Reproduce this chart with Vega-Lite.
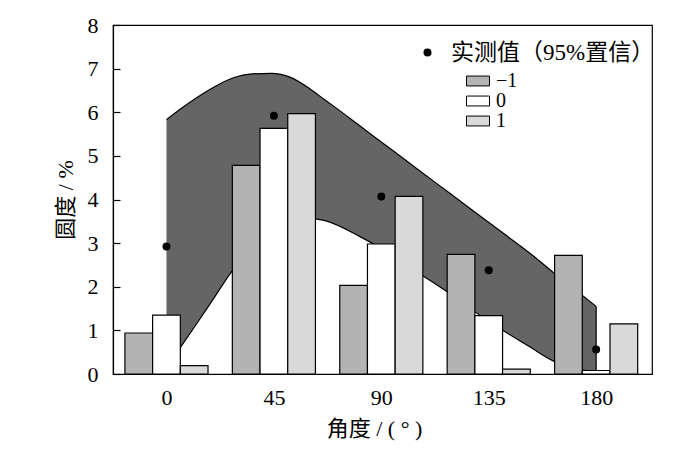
{
  "$schema": "https://vega.github.io/schema/vega-lite/v6.json",
  "autosize": "none",
  "width": 539,
  "height": 349,
  "padding": {"left": 113, "top": 25, "right": 48, "bottom": 75},
  "background": "white",
  "config": {
    "font": "'Liberation Serif', 'Noto Sans CJK SC', serif",
    "view": {"stroke": "black", "strokeWidth": 1.2},
    "axis": {
      "grid": false,
      "domainColor": "black",
      "domainWidth": 1.2,
      "tickColor": "black",
      "tickWidth": 1.2,
      "labelColor": "black",
      "titleColor": "black",
      "labelFontSize": 22,
      "titleFontSize": 22,
      "titleFontWeight": "normal"
    },
    "legend": {"labelColor": "black", "labelLimit": 400}
  },
  "datasets": {
    "bars": [
      {"angle": 0, "series": "-1", "value": 0.94},
      {"angle": 0, "series": "0", "value": 1.35},
      {"angle": 0, "series": "1", "value": 0.19},
      {"angle": 45, "series": "-1", "value": 4.78},
      {"angle": 45, "series": "0", "value": 5.63},
      {"angle": 45, "series": "1", "value": 5.97},
      {"angle": 90, "series": "-1", "value": 2.03},
      {"angle": 90, "series": "0", "value": 2.98},
      {"angle": 90, "series": "1", "value": 4.07},
      {"angle": 135, "series": "-1", "value": 2.74},
      {"angle": 135, "series": "0", "value": 1.34},
      {"angle": 135, "series": "1", "value": 0.11},
      {"angle": 180, "series": "-1", "value": 2.72},
      {"angle": 180, "series": "0", "value": 0.08},
      {"angle": 180, "series": "1", "value": 1.15}
    ],
    "measured": [
      {"angle": 0, "value": 2.92},
      {"angle": 45, "value": 5.92},
      {"angle": 90, "value": 4.07},
      {"angle": 135, "value": 2.38},
      {"angle": 180, "value": 0.56}
    ],
    "band": [
      {"angle": 0, "upper": 5.83, "lower": 0.15},
      {"angle": 6, "upper": 6.08, "lower": 0.62},
      {"angle": 12, "upper": 6.31, "lower": 1.1},
      {"angle": 20, "upper": 6.58, "lower": 1.75},
      {"angle": 28, "upper": 6.79, "lower": 2.4},
      {"angle": 36, "upper": 6.88, "lower": 2.88},
      {"angle": 44, "upper": 6.89, "lower": 3.22},
      {"angle": 52, "upper": 6.8, "lower": 3.45},
      {"angle": 60, "upper": 6.54, "lower": 3.56},
      {"angle": 66, "upper": 6.3, "lower": 3.52},
      {"angle": 72, "upper": 6.06, "lower": 3.4},
      {"angle": 80, "upper": 5.73, "lower": 3.18},
      {"angle": 88, "upper": 5.4, "lower": 2.94},
      {"angle": 98, "upper": 4.99, "lower": 2.57},
      {"angle": 108, "upper": 4.58, "lower": 2.23},
      {"angle": 118, "upper": 4.17, "lower": 1.87},
      {"angle": 128, "upper": 3.76, "lower": 1.47},
      {"angle": 140, "upper": 3.27, "lower": 1.03},
      {"angle": 152, "upper": 2.78, "lower": 0.63},
      {"angle": 162, "upper": 2.33, "lower": 0.3},
      {"angle": 172, "upper": 1.9, "lower": 0.12},
      {"angle": 180, "upper": 1.55, "lower": 0.05}
    ]
  },
  "layer": [
    {
      "data": {"name": "band"},
      "mark": {"type": "area", "fill": "#656565", "interpolate": "monotone"},
      "encoding": {
        "x": {
          "field": "angle", "type": "quantitative",
          "scale": {"domain": [-22.4, 203.4], "nice": false, "zero": false, "padding": 0},
          "axis": {
            "title": "角度 / ( ° )",
            "values": [0, 45, 90, 135, 180],
            "ticks": false,
            "labelPadding": 30,
            "labelBaseline": "alphabetic",
            "titleX": 261,
            "titleY": 54,
            "titleBaseline": "middle"
          }
        },
        "y": {
          "field": "upper", "type": "quantitative",
          "scale": {"domain": [0, 8], "nice": false},
          "axis": {
            "title": "圆度 / %",
            "values": [0, 1, 2, 3, 4, 5, 6, 7, 8],
            "tickSize": -7,
            "labelPadding": 22,
            "titleX": -48,
            "titleY": 174.5,
            "titleBaseline": "middle",
            "titleAlign": "center"
          }
        },
        "y2": {"field": "lower"}
      }
    },
    {
      "data": {"name": "band"},
      "mark": {"type": "line", "stroke": "black", "strokeWidth": 1.2, "interpolate": "monotone"},
      "encoding": {
        "x": {"field": "angle", "type": "quantitative"},
        "y": {"field": "upper", "type": "quantitative"}
      }
    },
    {
      "data": {"name": "band"},
      "mark": {"type": "line", "stroke": "black", "strokeWidth": 1.2, "interpolate": "monotone"},
      "encoding": {
        "x": {"field": "angle", "type": "quantitative"},
        "y": {"field": "lower", "type": "quantitative"}
      }
    },
    {
      "data": {"name": "band"},
      "transform": [{"filter": "datum.angle == 180"}],
      "mark": {"type": "rule", "stroke": "black", "strokeWidth": 1.2},
      "encoding": {
        "x": {"field": "angle", "type": "quantitative"},
        "y": {"field": "upper", "type": "quantitative"},
        "y2": {"datum": 0}
      }
    },
    {
      "data": {"name": "bars"},
      "transform": [{"filter": "datum.series == '-1'"}],
      "mark": {"type": "bar", "width": 27.7, "xOffset": -27.7, "stroke": "black", "strokeWidth": 1.2},
      "encoding": {
        "x": {"field": "angle", "type": "quantitative"},
        "y": {"field": "value", "type": "quantitative", "stack": null},
        "fill": {
          "field": "series", "type": "nominal",
          "scale": {"domain": ["-1", "0", "1"], "range": ["#b3b3b3", "#ffffff", "#d9d9d9"]},
          "legend": {
            "orient": "none",
            "legendX": 353,
            "legendY": 46,
            "title": null,
            "padding": 0,
            "labelFontSize": 20,
            "labelOffset": 6,
            "symbolType": "M-1,-0.43H1V0.43H-1Z",
            "symbolSize": 529,
            "symbolStrokeColor": "black",
            "symbolStrokeWidth": 1,
            "clipHeight": 20,
            "rowPadding": 0,
            "labelExpr": "datum.label == '-1' ? '−1' : datum.label"
          }
        }
      }
    },
    {
      "data": {"name": "bars"},
      "transform": [{"filter": "datum.series == '0'"}],
      "mark": {"type": "bar", "width": 27.7, "xOffset": 0, "stroke": "black", "strokeWidth": 1.2},
      "encoding": {
        "x": {"field": "angle", "type": "quantitative"},
        "y": {"field": "value", "type": "quantitative", "stack": null},
        "fill": {"field": "series", "type": "nominal"}
      }
    },
    {
      "data": {"name": "bars"},
      "transform": [{"filter": "datum.series == '1'"}],
      "mark": {"type": "bar", "width": 27.7, "xOffset": 27.7, "stroke": "black", "strokeWidth": 1.2},
      "encoding": {
        "x": {"field": "angle", "type": "quantitative"},
        "y": {"field": "value", "type": "quantitative", "stack": null},
        "fill": {"field": "series", "type": "nominal"}
      }
    },
    {
      "data": {"name": "measured"},
      "mark": {"type": "point", "filled": true, "color": "black", "opacity": 1, "size": 64},
      "encoding": {
        "x": {"field": "angle", "type": "quantitative"},
        "y": {"field": "value", "type": "quantitative"},
        "shape": {
          "datum": "实测值（95%置信）",
          "scale": {"range": ["circle"]},
          "legend": {
            "orient": "none",
            "legendX": 303,
            "legendY": 16,
            "title": null,
            "padding": 0,
            "labelFontSize": 23,
            "labelOffset": 12,
            "symbolSize": 64,
            "symbolFillColor": "black",
            "symbolStrokeColor": "black"
          }
        }
      }
    }
  ]
}
